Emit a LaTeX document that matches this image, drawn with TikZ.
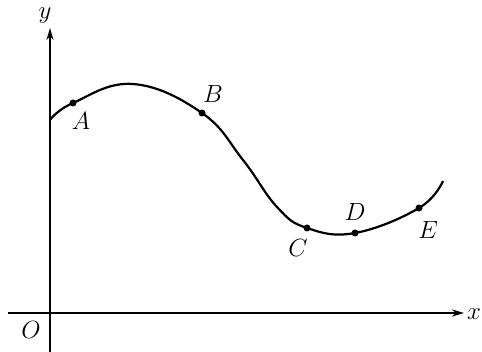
\documentclass[tikz,border=0pt]{standalone}
\usetikzlibrary{arrows.meta}
\begin{document}
\begin{tikzpicture}[x=1pt,y=-1pt,
  axis/.style={line width=2pt,-{Stealth[length=12pt,width=7pt]}},
  curve/.style={line width=2.2pt},
  dot/.style={circle,fill=black,inner sep=0pt,minimum size=7pt},
  lbl/.style={font=\fontsize{25}{30}\selectfont,inner sep=1pt}]
\useasboundingbox (0,0) rectangle (482,352);
\coordinate (xs) at (8,313);
\coordinate (xe) at (464,313);
\coordinate (ys) at (50,352);
\coordinate (ye) at (50,28);
\draw[axis] (xs) -- (xe);
\draw[axis] (ys) -- (ye);
\node[lbl,anchor=west] (xl) at (466,314) {$x$};
\node[lbl] (yl) at (45,16) {$y$};
\node[lbl] (o) at (31,330) {$O$};
\draw[curve] plot[smooth,tension=0.7] coordinates {(50,120) (73,103) (133,84) (202,113) (243,160) (277,207) (307,228) (355,233) (419,208) (443,181)};
\node[dot] (A) at (73,103) {};
\node[dot] (B) at (202,113) {};
\node[dot] (C) at (307,228) {};
\node[dot] (D) at (355,233) {};
\node[dot] (E) at (419,208) {};
\node[lbl] (Al) at (81,121) {$A$};
\node[lbl] (Bl) at (213,94) {$B$};
\node[lbl] (Cl) at (298,248) {$C$};
\node[lbl] (Dl) at (355,212) {$D$};
\node[lbl] (El) at (428,230) {$E$};
\end{tikzpicture}
\end{document}
